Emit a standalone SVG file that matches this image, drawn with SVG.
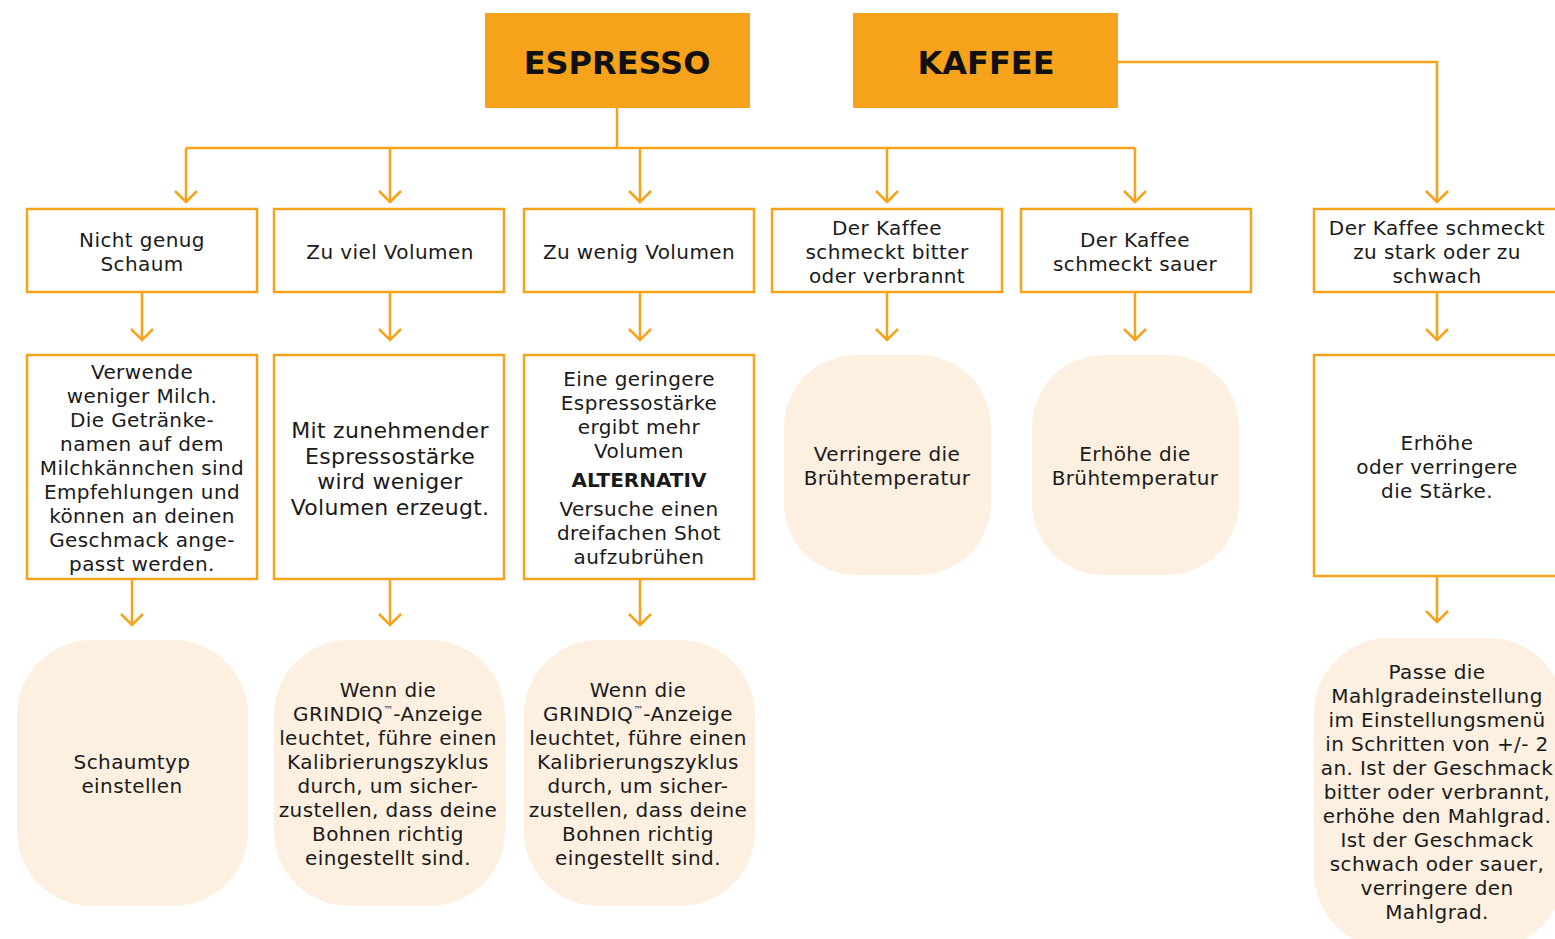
<svg xmlns="http://www.w3.org/2000/svg" width="1555" height="939" viewBox="0 0 1555 939">
<style>
.hdr{fill:#F7A21B}
.ht{font-family:"DejaVu Sans",sans-serif;font-weight:bold;font-size:32px;fill:#111;text-anchor:middle}
.box{fill:#fff;stroke:#F7A21B;stroke-width:2.5}
.rnd{fill:#FDF0E1}
.t{font-family:"DejaVu Sans",sans-serif;font-size:20px;letter-spacing:0.4px;fill:#1a1a1a;text-anchor:middle}
.tl{font-family:"DejaVu Sans",sans-serif;font-size:22px;letter-spacing:0.3px;fill:#1a1a1a;text-anchor:middle}
.b{font-weight:bold;letter-spacing:0}
.tm{font-size:10px;letter-spacing:0}
.con path{fill:none;stroke:#F7A21B;stroke-width:2.5}
</style>
<defs>
<marker id="ah" markerUnits="userSpaceOnUse" orient="auto" refX="0" refY="0" markerWidth="30" markerHeight="30" overflow="visible">
<path d="M-11,-11 L0,0 L-11,11" fill="none" stroke="#F7A21B" stroke-width="2.5"/>
</marker>
</defs>
<rect width="1555" height="939" fill="#fff"/>

<g class="con">
<path d="M617,108 V148"/>
<path d="M186,148 H1135"/>
<path d="M186,148 V202" marker-end="url(#ah)"/>
<path d="M390,148 V202" marker-end="url(#ah)"/>
<path d="M640,148 V202" marker-end="url(#ah)"/>
<path d="M887,148 V202" marker-end="url(#ah)"/>
<path d="M1135,148 V202" marker-end="url(#ah)"/>
<path d="M1118,62 H1437 V202" marker-end="url(#ah)"/>
<path d="M142,292 V340" marker-end="url(#ah)"/>
<path d="M390,292 V340" marker-end="url(#ah)"/>
<path d="M640,292 V340" marker-end="url(#ah)"/>
<path d="M887,292 V340" marker-end="url(#ah)"/>
<path d="M1135,292 V340" marker-end="url(#ah)"/>
<path d="M1437,292 V340" marker-end="url(#ah)"/>
<path d="M132,579 V625" marker-end="url(#ah)"/>
<path d="M390,579 V625" marker-end="url(#ah)"/>
<path d="M640,579 V625" marker-end="url(#ah)"/>
<path d="M1437,576 V622" marker-end="url(#ah)"/>
</g>

<g id="espresso"><rect class="hdr" x="485" y="13" width="265" height="95"/><text class="ht" x="617" y="74">ESPRESSO</text></g>
<g id="kaffee"><rect class="hdr" x="853" y="13" width="265" height="95"/><text class="ht" x="986" y="74">KAFFEE</text></g>

<g id="p1"><rect class="box" x="27" y="209" width="230" height="83"/><text class="t" x="142" y="247">Nicht genug</text><text class="t" x="142" y="271">Schaum</text></g>
<g id="p2"><rect class="box" x="274" y="209" width="230" height="83"/><text class="t" x="390" y="259">Zu viel Volumen</text></g>
<g id="p3"><rect class="box" x="524" y="209" width="230" height="83"/><text class="t" x="639" y="259">Zu wenig Volumen</text></g>
<g id="p4"><rect class="box" x="772" y="209" width="230" height="83"/><text class="t" x="887" y="235">Der Kaffee</text><text class="t" x="887" y="259">schmeckt bitter</text><text class="t" x="887" y="283">oder verbrannt</text></g>
<g id="p5"><rect class="box" x="1021" y="209" width="230" height="83"/><text class="t" x="1135" y="247">Der Kaffee</text><text class="t" x="1135" y="271">schmeckt sauer</text></g>
<g id="p6"><rect class="box" x="1314" y="209" width="250" height="83"/><text class="t" x="1437" y="235">Der Kaffee schmeckt</text><text class="t" x="1437" y="259">zu stark oder zu</text><text class="t" x="1437" y="283">schwach</text></g>

<g id="s1"><rect class="box" x="27" y="355" width="230" height="224"/>
<text class="t" x="142" y="379">Verwende</text><text class="t" x="142" y="403">weniger Milch.</text><text class="t" x="142" y="427">Die Getränke-</text><text class="t" x="142" y="451">namen auf dem</text><text class="t" x="142" y="475">Milchkännchen sind</text><text class="t" x="142" y="499">Empfehlungen und</text><text class="t" x="142" y="523">können an deinen</text><text class="t" x="142" y="547">Geschmack ange-</text><text class="t" x="142" y="571">passt werden.</text></g>
<g id="s2"><rect class="box" x="274" y="355" width="230" height="224"/>
<text class="tl" x="390" y="438">Mit zunehmender</text><text class="tl" x="390" y="464">Espressostärke</text><text class="tl" x="390" y="489">wird weniger</text><text class="tl" x="390" y="515">Volumen erzeugt.</text></g>
<g id="s3"><rect class="box" x="524" y="355" width="230" height="224"/>
<text class="t" x="639" y="386">Eine geringere</text><text class="t" x="639" y="410">Espressostärke</text><text class="t" x="639" y="434">ergibt mehr</text><text class="t" x="639" y="458">Volumen</text><text class="t b" x="639" y="487">ALTERNATIV</text><text class="t" x="639" y="516">Versuche einen</text><text class="t" x="639" y="540">dreifachen Shot</text><text class="t" x="639" y="564">aufzubrühen</text></g>
<g id="s4"><rect class="rnd" x="784" y="355" width="207" height="220" rx="72"/><text class="t" x="887" y="461">Verringere die</text><text class="t" x="887" y="485">Brühtemperatur</text></g>
<g id="s5"><rect class="rnd" x="1032" y="355" width="207" height="220" rx="72"/><text class="t" x="1135" y="461">Erhöhe die</text><text class="t" x="1135" y="485">Brühtemperatur</text></g>
<g id="s6"><rect class="box" x="1314" y="355" width="250" height="221"/><text class="t" x="1437" y="450">Erhöhe</text><text class="t" x="1437" y="474">oder verringere</text><text class="t" x="1437" y="498">die Stärke.</text></g>

<g id="r1"><rect class="rnd" x="17" y="640" width="231" height="266" rx="75"/><text class="t" x="132" y="769">Schaumtyp</text><text class="t" x="132" y="793">einstellen</text></g>
<g id="r2"><rect class="rnd" x="274" y="640" width="231" height="266" rx="75"/>
<text class="t" x="388" y="697">Wenn die</text><text class="t" x="388" y="721">GRINDIQ<tspan class="tm" dy="-8">™</tspan><tspan dy="8">-Anzeige</tspan></text><text class="t" x="388" y="745">leuchtet, führe einen</text><text class="t" x="388" y="769">Kalibrierungszyklus</text><text class="t" x="388" y="793">durch, um sicher-</text><text class="t" x="388" y="817">zustellen, dass deine</text><text class="t" x="388" y="841">Bohnen richtig</text><text class="t" x="388" y="865">eingestellt sind.</text></g>
<g id="r3"><rect class="rnd" x="524" y="640" width="231" height="266" rx="75"/>
<text class="t" x="638" y="697">Wenn die</text><text class="t" x="638" y="721">GRINDIQ<tspan class="tm" dy="-8">™</tspan><tspan dy="8">-Anzeige</tspan></text><text class="t" x="638" y="745">leuchtet, führe einen</text><text class="t" x="638" y="769">Kalibrierungszyklus</text><text class="t" x="638" y="793">durch, um sicher-</text><text class="t" x="638" y="817">zustellen, dass deine</text><text class="t" x="638" y="841">Bohnen richtig</text><text class="t" x="638" y="865">eingestellt sind.</text></g>
<g id="r6"><rect class="rnd" x="1314" y="638" width="250" height="310" rx="75"/>
<text class="t" x="1437" y="679">Passe die</text><text class="t" x="1437" y="703">Mahlgradeinstellung</text><text class="t" x="1437" y="727">im Einstellungsmenü</text><text class="t" x="1437" y="751">in Schritten von +/- 2</text><text class="t" x="1437" y="775">an. Ist der Geschmack</text><text class="t" x="1437" y="799">bitter oder verbrannt,</text><text class="t" x="1437" y="823">erhöhe den Mahlgrad.</text><text class="t" x="1437" y="847">Ist der Geschmack</text><text class="t" x="1437" y="871">schwach oder sauer,</text><text class="t" x="1437" y="895">verringere den</text><text class="t" x="1437" y="919">Mahlgrad.</text></g>
</svg>
